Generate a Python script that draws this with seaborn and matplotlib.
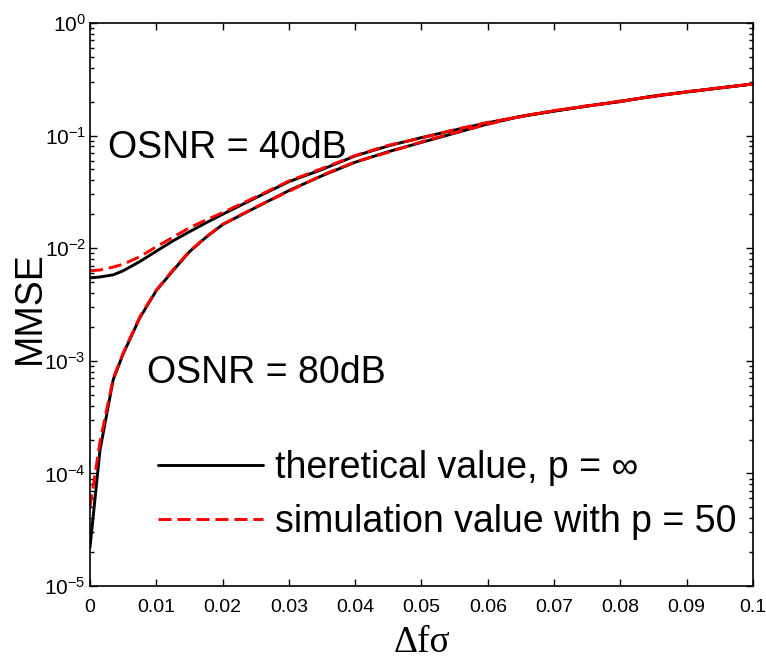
import numpy as np
import pandas as pd
import matplotlib
matplotlib.use("Agg")
import matplotlib.pyplot as plt
import matplotlib.ticker as mticker
import seaborn as sns

# ---- data ----
x = [0, 0.0015, 0.0035, 0.005, 0.0075, 0.01, 0.0125, 0.015, 0.0175, 0.02,
     0.025, 0.03, 0.035, 0.04, 0.045, 0.05, 0.055, 0.06, 0.065, 0.07,
     0.075, 0.08, 0.085, 0.09, 0.095, 0.1]

theory_40 = [5.45e-3, 5.55e-3, 5.8e-3, 6.3e-3, 7.6e-3, 9.4e-3, 1.16e-2, 1.4e-2, 1.68e-2, 2.0e-2,
             2.8e-2, 3.9e-2, 5.0e-2, 6.6e-2, 8.1e-2, 9.6e-2, 1.12e-1, 1.30e-1, 1.48e-1, 1.65e-1,
             1.83e-1, 2.01e-1, 2.24e-1, 2.44e-1, 2.65e-1, 2.87e-1]
sim_40 = [6.3e-3, 6.4e-3, 6.8e-3, 7.2e-3, 8.4e-3, 1.03e-2, 1.25e-2, 1.52e-2, 1.78e-2, 2.07e-2,
          2.85e-2, 3.95e-2, 5.1e-2, 6.65e-2, 8.2e-2, 9.5e-2, 1.13e-1, 1.31e-1, 1.47e-1, 1.67e-1,
          1.82e-1, 2.03e-1, 2.22e-1, 2.46e-1, 2.64e-1, 2.88e-1]
theory_80 = [2.2e-5, 1.6e-4, 6.8e-4, 1.15e-3, 2.4e-3, 4.2e-3, 6.3e-3, 9.3e-3, 1.25e-2, 1.62e-2,
             2.3e-2, 3.25e-2, 4.4e-2, 5.8e-2, 7.2e-2, 8.7e-2, 1.05e-1, 1.27e-1, 1.48e-1, 1.65e-1,
             1.83e-1, 2.01e-1, 2.24e-1, 2.44e-1, 2.65e-1, 2.87e-1]
sim_80 = [5.0e-5, 1.9e-4, 7.0e-4, 1.17e-3, 2.45e-3, 4.25e-3, 6.4e-3, 9.4e-3, 1.26e-2, 1.63e-2,
          2.32e-2, 3.2e-2, 4.45e-2, 5.85e-2, 7.1e-2, 8.8e-2, 1.06e-1, 1.26e-1, 1.49e-1, 1.66e-1,
          1.84e-1, 2.0e-1, 2.25e-1, 2.43e-1, 2.66e-1, 2.86e-1]

legend_labels = ["theretical value, p = \u221e", "simulation value with p = 50"]
x_ticks = [0, 0.01, 0.02, 0.03, 0.04, 0.05, 0.06, 0.07, 0.08, 0.09, 0.1]
x_ticklabels = ["0", "0.01", "0.02", "0.03", "0.04", "0.05", "0.06", "0.07", "0.08", "0.09", "0.1"]
y_ticks = [1e-5, 1e-4, 1e-3, 1e-2, 1e-1, 1e0]
y_exps = [-5, -4, -3, -2, -1, 0]

# ---- style ----
sns.set_style("ticks")
plt.rcParams['font.family'] = ['Liberation Sans', 'DejaVu Sans']
plt.rcParams['mathtext.fontset'] = 'custom'
plt.rcParams['mathtext.rm'] = 'Liberation Sans'
plt.rcParams['mathtext.it'] = 'Liberation Sans'
for k in ['text.color', 'axes.labelcolor', 'xtick.color', 'ytick.color', 'axes.edgecolor']:
    plt.rcParams[k] = 'black'

fig = plt.figure(figsize=(7.66, 6.60), dpi=100)
ax = fig.add_axes([0.1175, 0.1121, 0.8655, 0.8531])

lw = 2.1
sns.lineplot(x=x, y=theory_40, ax=ax, color='black', linewidth=lw, label=legend_labels[0])
sns.lineplot(x=x, y=theory_80, ax=ax, color='black', linewidth=lw, label='_nolegend_')
sns.lineplot(x=x, y=sim_40, ax=ax, color='red', linewidth=lw, label=legend_labels[1])
sns.lineplot(x=x, y=sim_80, ax=ax, color='red', linewidth=lw, label='_nolegend_')
for ln in ax.get_lines()[2:4]:
    ln.set_dashes((4.5, 2))

ax.set_yscale('log')
ax.set_xlim(0, 0.1)
ax.set_ylim(1e-5, 1)
ax.set_xticks(x_ticks)
ax.set_xticklabels(x_ticklabels, fontsize=14)
ax.set_yticks(y_ticks)
ax.set_yticklabels([r'$\mathregular{10^{%d}}$' % e for e in y_exps], fontsize=15)
ax.yaxis.set_minor_locator(mticker.LogLocator(base=10, subs=np.arange(2, 10)))
ax.yaxis.set_minor_formatter(mticker.NullFormatter())

ax.tick_params(which='both', direction='in', top=True, right=True, width=1, colors='black')
ax.tick_params(which='major', length=5)
ax.tick_params(axis='x', which='major', pad=9)
ax.tick_params(axis='y', which='major', pad=3)
ax.tick_params(which='minor', length=3)
for s in ax.spines.values():
    s.set_visible(True)
    s.set_linewidth(1.2)
    s.set_color('black')

ax.set_xlabel('\u0394f\u03c3', fontsize=27, family=['Liberation Serif', 'DejaVu Serif'], labelpad=7)
ax.set_ylabel('MMSE', fontsize=27)
ax.yaxis.set_label_coords(-0.064, 0.494)

ax.text(0.0027, 0.063, 'OSNR = 40dB', fontsize=27, ha='left', va='baseline')
ax.text(0.0086, 6.3e-4, 'OSNR = 80dB', fontsize=27, ha='left', va='baseline')

leg = ax.legend(loc='lower right', bbox_to_anchor=(1.014, 0.035), frameon=False, fontsize=27,
                handlelength=2.8, handletextpad=0.32, labelspacing=0.47, borderpad=0.2)

fig.savefig('out.png', dpi=100)
